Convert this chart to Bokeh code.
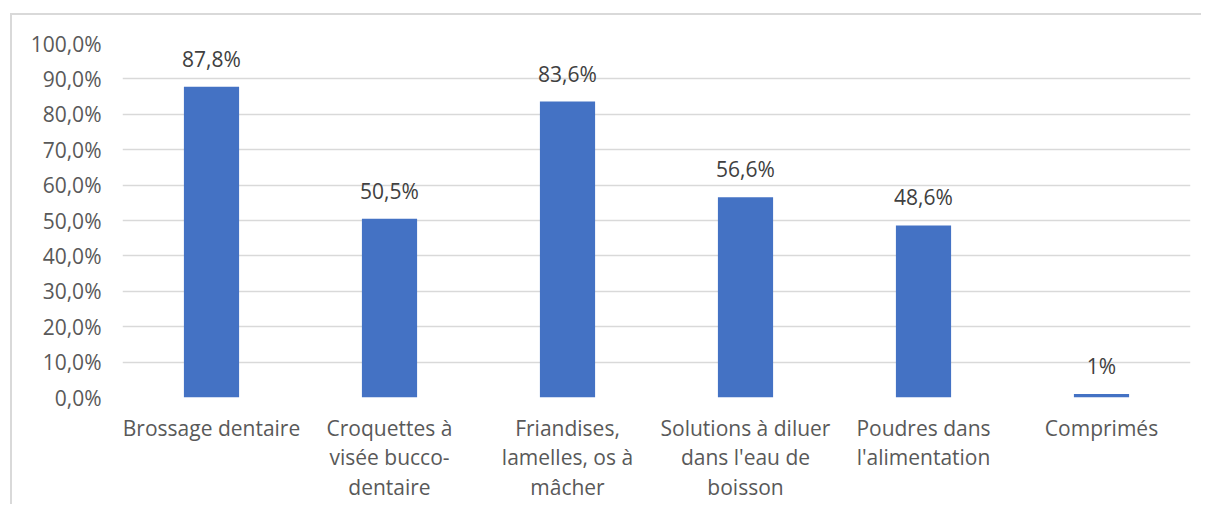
from bokeh.plotting import figure
from bokeh.models import ColumnDataSource, LabelSet, FixedTicker, Range1d
from bokeh.core.properties import value
from bokeh.embed import file_html
from bokeh.resources import INLINE

categories = [
    "Brossage dentaire",
    "Croquettes à\nvisée bucco-\ndentaire",
    "Friandises,\nlamelles, os à\nmâcher",
    "Solutions à diluer\ndans l'eau de\nboisson",
    "Poudres dans\nl'alimentation",
    "Comprimés",
]
values = [87.8, 50.5, 83.6, 56.6, 48.6, 1.0]
value_labels = ["87,8%", "50,5%", "83,6%", "56,6%", "48,6%", "1%"]
y_ticks = [0, 10, 20, 30, 40, 50, 60, 70, 80, 90, 100]
y_tick_labels = ["0,0%", "10,0%", "20,0%", "30,0%", "40,0%", "50,0%",
                 "60,0%", "70,0%", "80,0%", "90,0%", "100,0%"]

FONT = "Open Sans"
FS = "21px"

source = ColumnDataSource(dict(cat=categories, val=values, lab=value_labels))

p = figure(
    x_range=categories,
    y_range=Range1d(0, 100),
    width=1201,
    height=504,
    output_backend="svg",
    toolbar_location=None,
    min_border_left=122,
    min_border_top=43,
    min_border_right=11,
    min_border_bottom=106,
    styles={"box-shadow": "inset 10px 13px 0 0 #ffffff, inset 12px 15px 0 0 #d9d9d9"},
)
p.border_fill_alpha = 0.0
p.background_fill_color = "#ffffff"

p.vbar(x="cat", top="val", width=0.31, source=source,
       fill_color="#4472C4", line_color=None)

labels = LabelSet(x="cat", y="val", text="lab", source=source,
                  y_offset=14, text_align="center", text_baseline="bottom",
                  text_font=value(FONT), text_font_size=FS,
                  text_color="#404040")
p.add_layout(labels)

p.outline_line_color = None
p.xgrid.grid_line_color = None
p.ygrid.grid_line_color = "#d9d9d9"
p.ygrid.grid_line_width = 1.5

p.yaxis.ticker = FixedTicker(ticks=y_ticks)
p.yaxis.major_label_overrides = {t: l for t, l in zip(y_ticks, y_tick_labels)}
for ax in (p.xaxis, p.yaxis):
    ax.axis_line_color = None
    ax.major_tick_line_color = None
    ax.minor_tick_line_color = None
    ax.major_label_text_font = FONT
    ax.major_label_text_font_size = FS
    ax.major_label_text_color = "#595959"

p.yaxis.major_label_standoff = 15
p.xaxis.major_label_standoff = 10
p.xaxis.major_label_text_line_height = 1.07
p.x_range.range_padding = 0.0

open("out.html", "w").write(file_html(p, INLINE))
